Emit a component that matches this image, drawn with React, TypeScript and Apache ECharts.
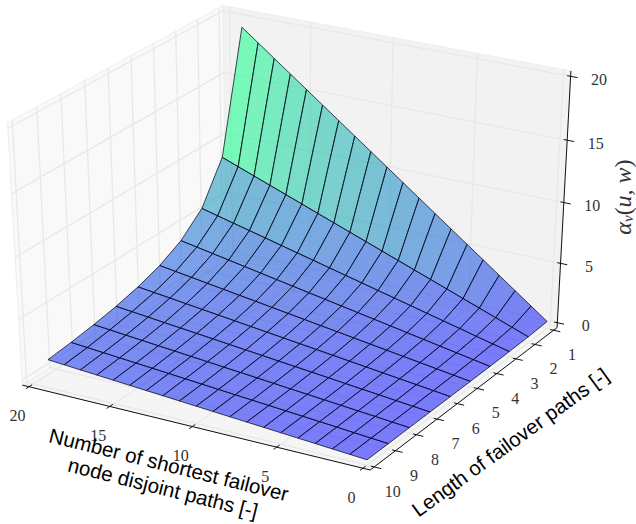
import React, { useEffect, useRef } from "react";
import * as echarts from "echarts";

const xValues = [0, 1, 2, 3, 4, 5, 6, 7, 8, 9, 10, 11, 12, 13, 14, 15, 16, 17, 18, 19];
const yValues = [1, 2, 3, 4, 5, 6, 7, 8, 9, 10];
const zRow1 = [0.2, 1.2, 2.2, 3.2, 4.2, 5.2, 6.2, 7.2, 8.2, 9.2, 10.2, 11.2, 12.2, 13.2, 14.2, 15.2, 16.2, 17.2, 18.2, 19.2];
const zRow2 = [0.1, 0.6, 1.1, 1.6, 2.1, 2.6, 3.1, 3.6, 4.1, 4.6, 5.1, 5.6, 6.1, 6.6, 7.1, 7.6, 8.1, 8.6, 9.1, 9.6];
const zRow3 = [0.07, 0.4, 0.73, 1.07, 1.4, 1.73, 2.07, 2.4, 2.73, 3.07, 3.4, 3.73, 4.07, 4.4, 4.73, 5.07, 5.4, 5.73, 6.07, 6.4];
const zRow4 = [0.05, 0.3, 0.55, 0.8, 1.05, 1.3, 1.55, 1.8, 2.05, 2.3, 2.55, 2.8, 3.05, 3.3, 3.55, 3.8, 4.05, 4.3, 4.55, 4.8];
const zRow5 = [0.04, 0.24, 0.44, 0.64, 0.84, 1.04, 1.24, 1.44, 1.64, 1.84, 2.04, 2.24, 2.44, 2.64, 2.84, 3.04, 3.24, 3.44, 3.64, 3.84];
const zRow6 = [0.03, 0.2, 0.37, 0.53, 0.7, 0.87, 1.03, 1.2, 1.37, 1.53, 1.7, 1.87, 2.03, 2.2, 2.37, 2.53, 2.7, 2.87, 3.03, 3.2];
const zRow7 = [0.03, 0.17, 0.31, 0.46, 0.6, 0.74, 0.89, 1.03, 1.17, 1.31, 1.46, 1.6, 1.74, 1.89, 2.03, 2.17, 2.31, 2.46, 2.6, 2.74];
const zRow8 = [0.03, 0.15, 0.28, 0.4, 0.53, 0.65, 0.78, 0.9, 1.03, 1.15, 1.28, 1.4, 1.53, 1.65, 1.78, 1.9, 2.03, 2.15, 2.28, 2.4];
const zRow9 = [0.02, 0.13, 0.24, 0.36, 0.47, 0.58, 0.69, 0.8, 0.91, 1.02, 1.13, 1.24, 1.36, 1.47, 1.58, 1.69, 1.8, 1.91, 2.02, 2.13];
const zRow10 = [0.02, 0.12, 0.22, 0.32, 0.42, 0.52, 0.62, 0.72, 0.82, 0.92, 1.02, 1.12, 1.22, 1.32, 1.42, 1.52, 1.62, 1.72, 1.82, 1.92];
const zRows = [zRow1, zRow2, zRow3, zRow4, zRow5, zRow6, zRow7, zRow8, zRow9, zRow10];

const xTicks = [0, 5, 10, 15, 20];
const yTicks = [1, 2, 3, 4, 5, 6, 7, 8, 9, 10];
const zTicks = [0, 5, 10, 15, 20];
const xTitle = "Number of shortest failover\nnode disjoint paths [-]";
const yTitle = "Length of failover paths [-]";

const { linearMap } = echarts.number;
const nx = (x: number) => linearMap(x, [0, 20], [1, 0]);
const ny = (y: number) => linearMap(y, [10, 1], [0, 1]);
const nz = (z: number) => linearMap(z, [0, 20], [0, 1]);

// view: elevation 30, azimuth -60, distance 10
const PAD = 1 / 48;
const LO = -PAD;
const HI = 1 + PAD;
const U = [0.866, 0.5, 0];
const V = [-0.25, 0.433, 0.866];
const N = [0.433, -0.75, 0.5];
const DIST = 10;
const SX = 3855;
const SY = 2875;
const CX = 294;
const CY = 229.5;

const dot = (a: number[], b: number[]) => a[0] * b[0] + a[1] * b[1] + a[2] * b[2];
const depth = (p: number[]) => dot(N, [p[0] - 0.5, p[1] - 0.5, p[2] - 0.5]);
function proj(p: number[]): number[] {
  const d = [p[0] - 0.5, p[1] - 0.5, p[2] - 0.5];
  const w = DIST - dot(N, d);
  return [CX + (SX * dot(U, d)) / w, CY - (SY * dot(V, d)) / w];
}

const line3 = (a: number[], b: number[], stroke: string, lineWidth: number) => {
  const p = proj(a);
  const q = proj(b);
  return {
    type: "line",
    shape: { x1: p[0], y1: p[1], x2: q[0], y2: q[1] },
    style: { stroke, lineWidth },
  };
};
const pane = (pts: number[][], fill: string) => ({
  type: "polygon",
  shape: { points: pts.map(proj) },
  style: { fill, stroke: "#eeeeee", lineWidth: 1 },
});

const panes = [
  pane([[LO, LO, LO], [LO, HI, LO], [LO, HI, HI], [LO, LO, HI]], "#f9f9f9"),
  pane([[LO, HI, LO], [HI, HI, LO], [HI, HI, HI], [LO, HI, HI]], "#f2f2f2"),
  pane([[LO, LO, LO], [HI, LO, LO], [HI, HI, LO], [LO, HI, LO]], "#f5f5f5"),
];

const GRID = "#e8e8e8";
const GRIDW = 1.3;
const gridLines: any[] = [];
xTicks.forEach((t) => {
  const a = nx(t);
  gridLines.push(line3([a, LO, LO], [a, HI, LO], GRID, GRIDW));
  gridLines.push(line3([a, HI, LO], [a, HI, HI], GRID, GRIDW));
});
yTicks.forEach((t) => {
  const a = ny(t);
  gridLines.push(line3([HI, a, LO], [LO, a, LO], GRID, GRIDW));
  gridLines.push(line3([LO, a, LO], [LO, a, HI], GRID, GRIDW));
});
zTicks.forEach((t) => {
  const a = nz(t);
  gridLines.push(line3([LO, LO, a], [LO, HI, a], GRID, GRIDW));
  gridLines.push(line3([LO, HI, a], [HI, HI, a], GRID, GRIDW));
});

const AX = "#111";
const TICKW = 0.03;
const axisLines: any[] = [
  line3([LO, LO, LO], [HI, LO, LO], AX, 1),
  line3([HI, LO, LO], [HI, HI, LO], AX, 1),
  line3([HI, HI, LO], [HI, HI, HI], AX, 1),
];
const tickLabel = (text: string, x: number, y: number) => ({
  type: "text",
  x,
  y,
  style: { text, fill: "#333", font: '16px "Liberation Serif"', align: "center", verticalAlign: "middle" },
});
const labels: any[] = [];
xTicks.forEach((t) => {
  const a = nx(t);
  axisLines.push(line3([a, LO + TICKW * 0.5, LO], [a, LO - TICKW * 0.5, LO], AX, 1));
  const p = proj([a, LO, LO]);
  labels.push(tickLabel(String(t), p[0] - 11.5, p[1] + 29));
});
yTicks.forEach((t) => {
  const a = ny(t);
  axisLines.push(line3([HI - TICKW * 0.33, a, LO], [HI + TICKW * 0.67, a, LO], AX, 1));
  const p = proj([HI, a, LO]);
  labels.push(tickLabel(String(t), p[0] + 18.5, p[1] + 24.5));
});
zTicks.forEach((t) => {
  const a = nz(t);
  axisLines.push(line3([HI - TICKW * 0.33, HI, a], [HI + TICKW * 0.67, HI, a], AX, 1));
  const p = proj([HI, HI, a]);
  labels.push(tickLabel(String(t), p[0] + 28.5, p[1] + 3));
});

labels.push({
  type: "text",
  x: 166,
  y: 476,
  rotation: (-14 * Math.PI) / 180,
  style: { text: xTitle, fill: "#000", font: '20.5px "Liberation Sans"', lineHeight: 24, align: "center", verticalAlign: "middle" },
});
labels.push({
  type: "text",
  x: 510,
  y: 442,
  rotation: (36 * Math.PI) / 180,
  style: { text: yTitle, fill: "#000", font: '20.5px "Liberation Sans"', align: "center", verticalAlign: "middle" },
});
const serif = "Liberation Serif";
labels.push({
  type: "text",
  x: 625,
  y: 197,
  rotation: Math.PI / 2,
  style: {
    text: "{a|α}{b|v}{c|(}{a|u, w}{c|)}",
    align: "center",
    verticalAlign: "middle",
    rich: {
      a: { fontSize: 24, fontStyle: "italic", fontFamily: serif, fill: "#333", lineHeight: 20, verticalAlign: "bottom" },
      b: { fontSize: 15, fontStyle: "italic", fontFamily: serif, fill: "#333", lineHeight: 14, verticalAlign: "bottom" },
      c: { fontSize: 24, fontFamily: serif, fill: "#333", lineHeight: 20, verticalAlign: "bottom" },
    },
  },
});

// surface cells, coloured by the mean of their corners on the winter map
const cells: { pts: number[][]; mean: number; d: number }[] = [];
for (let j = 0; j < yValues.length - 1; j++) {
  for (let i = 0; i < xValues.length - 1; i++) {
    const corners = [
      [i, j],
      [i + 1, j],
      [i + 1, j + 1],
      [i, j + 1],
    ];
    const pts = corners.map(([a, b]) => [nx(xValues[a]), ny(yValues[b]), nz(zRows[b][a])]);
    const mean = corners.reduce((s, [a, b]) => s + zRows[b][a], 0) / 4;
    const d = pts.reduce((s, p) => s + depth(p), 0) / 4;
    cells.push({ pts, mean, d });
  }
}
cells.sort((a, b) => a.d - b.d);
const meanMax = Math.max(...cells.map((c) => c.mean));
const meanMin = Math.min(...cells.map((c) => c.mean));
const surface = cells.map((c) => {
  const t = linearMap(c.mean, [meanMin, meanMax], [0, 1]);
  return {
    type: "polygon",
    shape: { points: c.pts.map(proj) },
    style: {
      fill: `rgba(0,${Math.round(255 * t)},${Math.round(255 * (1 - t / 2))},0.5)`,
      stroke: "rgba(10,10,30,0.85)",
      lineWidth: 0.9,
    },
  };
});

const layer = (items: any[], z: number) => ({
  type: "custom",
  coordinateSystem: "none",
  silent: true,
  z,
  data: items.map((_, i) => i),
  renderItem: (params: any) => items[params.dataIndex],
});

export default function App() {
  const ref = useRef<HTMLDivElement>(null);
  useEffect(() => {
    const chart = echarts.init(ref.current!, null, { renderer: "svg" });
    chart.setOption({
      animation: false,
      backgroundColor: "#fff",
      series: [layer(panes, 1), layer(gridLines, 2), layer(axisLines, 3), layer(surface, 4), layer(labels, 5)],
    });
    return () => chart.dispose();
  }, []);
  return <div ref={ref} style={{ position: "absolute", left: 0, top: 0, width: 636, height: 524 }} />;
}
